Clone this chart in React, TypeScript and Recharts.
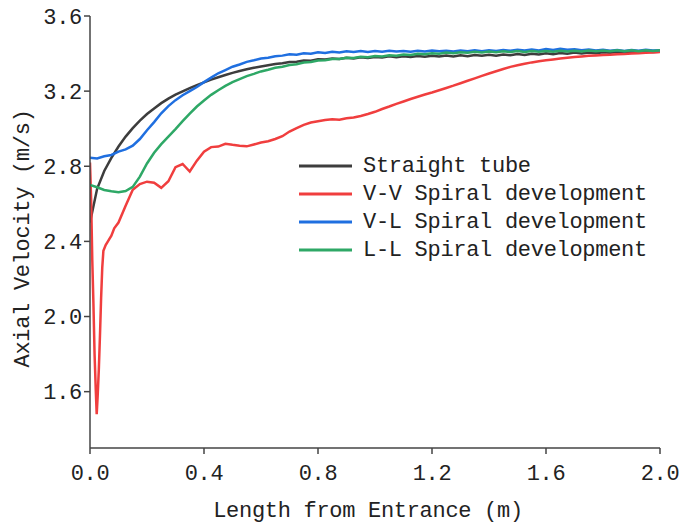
import React from "react";
import { LineChart, Line, XAxis, YAxis, Legend, Label } from "recharts";

// Shared x positions (m) for three series
const xGrid = [
  0, 0.025, 0.05, 0.075, 0.1, 0.125, 0.15, 0.175, 0.2, 0.225,
  0.25, 0.275, 0.3, 0.325, 0.35, 0.375, 0.4, 0.425, 0.45, 0.475,
  0.5, 0.525, 0.55, 0.575, 0.6, 0.625, 0.65, 0.675, 0.7, 0.725,
  0.75, 0.775, 0.8, 0.825, 0.85, 0.875, 0.9, 0.925, 0.95, 0.975,
  1.0, 1.025, 1.05, 1.075, 1.1, 1.125, 1.15, 1.175, 1.2, 1.225,
  1.25, 1.275, 1.3, 1.325, 1.35, 1.375, 1.4, 1.425, 1.45, 1.475,
  1.5, 1.525, 1.55, 1.575, 1.6, 1.625, 1.65, 1.675, 1.7, 1.725,
  1.75, 1.775, 1.8, 1.825, 1.85, 1.875, 1.9, 1.925, 1.95, 1.975, 2.0,
];

const straightTube = [
  2.5, 2.68, 2.775, 2.845, 2.905, 2.958, 3.003, 3.043, 3.078, 3.108,
  3.136, 3.16, 3.181, 3.199, 3.216, 3.232, 3.247, 3.261, 3.274, 3.286,
  3.297, 3.307, 3.316, 3.324, 3.331, 3.338, 3.344, 3.349, 3.355, 3.357,
  3.363, 3.362, 3.37, 3.368, 3.374, 3.371, 3.378, 3.374, 3.38, 3.377,
  3.382, 3.379, 3.385, 3.38, 3.386, 3.382, 3.387, 3.383, 3.388, 3.384,
  3.389, 3.385, 3.391, 3.386, 3.392, 3.388, 3.393, 3.389, 3.395, 3.391,
  3.397, 3.393, 3.399, 3.395, 3.401, 3.397, 3.403, 3.399, 3.405, 3.401,
  3.406, 3.402, 3.407, 3.404, 3.408, 3.405, 3.409, 3.406, 3.411, 3.408, 3.41,
];

const vlSpiral = [
  2.845, 2.842, 2.853, 2.86, 2.878, 2.89, 2.91, 2.945, 2.992, 3.035,
  3.082, 3.12, 3.152, 3.178, 3.2, 3.222, 3.248, 3.272, 3.295, 3.312,
  3.33, 3.342, 3.356, 3.364, 3.374, 3.378, 3.386, 3.389, 3.396, 3.394,
  3.402, 3.399, 3.407, 3.403, 3.41, 3.406, 3.412, 3.408, 3.413, 3.409,
  3.414, 3.41, 3.415, 3.411, 3.414, 3.41, 3.415, 3.411, 3.416, 3.412,
  3.415, 3.411, 3.416, 3.412, 3.417, 3.413, 3.418, 3.414, 3.419, 3.415,
  3.42, 3.416, 3.421, 3.417, 3.424, 3.419, 3.425, 3.42, 3.423, 3.418,
  3.422, 3.416, 3.42, 3.415, 3.419, 3.414, 3.419, 3.415, 3.42, 3.416, 3.418,
];

const llSpiral = [
  2.7, 2.688, 2.674, 2.667, 2.662, 2.668, 2.69, 2.745, 2.815, 2.872,
  2.918, 2.958, 2.998, 3.04, 3.08, 3.118, 3.15, 3.18, 3.205, 3.228,
  3.248, 3.264, 3.28, 3.292, 3.305, 3.314, 3.324, 3.33, 3.339, 3.343,
  3.352, 3.355, 3.363, 3.364, 3.371, 3.371, 3.378, 3.377, 3.383, 3.381,
  3.387, 3.385, 3.391, 3.389, 3.395, 3.392, 3.399, 3.396, 3.402, 3.399,
  3.405, 3.402, 3.407, 3.404, 3.409, 3.406, 3.411, 3.407, 3.412, 3.408,
  3.413, 3.409, 3.414, 3.41, 3.414, 3.41, 3.415, 3.411, 3.415, 3.411,
  3.416, 3.412, 3.416, 3.412, 3.417, 3.413, 3.417, 3.413, 3.418, 3.414, 3.418,
];

// V-V series has a dense start to capture the sharp dip
const vvX = [
  0, 0.004, 0.008, 0.012, 0.016, 0.02, 0.0235, 0.027, 0.031, 0.035,
  0.039, 0.043, 0.047, 0.055, 0.065, 0.075, 0.085, 0.1,
  0.125, 0.15, 0.175, 0.2, 0.225, 0.25, 0.275, 0.3, 0.325, 0.35,
  0.375, 0.4, 0.425, 0.45, 0.475, 0.5, 0.525, 0.55, 0.575, 0.6,
  0.625, 0.65, 0.675, 0.7, 0.725, 0.75, 0.775, 0.8, 0.825, 0.85,
  0.875, 0.9, 0.925, 0.95, 0.975, 1.0, 1.025, 1.05, 1.075, 1.1,
  1.125, 1.15, 1.175, 1.2, 1.225, 1.25, 1.275, 1.3, 1.325, 1.35,
  1.375, 1.4, 1.425, 1.45, 1.475, 1.5, 1.525, 1.55, 1.575, 1.6,
  1.625, 1.65, 1.675, 1.7, 1.725, 1.75, 1.775, 1.8, 1.825, 1.85,
  1.875, 1.9, 1.925, 1.95, 1.975, 2.0,
];

const vvSpiral = [
  2.82, 2.62, 2.3, 2.07, 1.8, 1.62, 1.48, 1.58, 1.72, 1.9,
  2.1, 2.26, 2.35, 2.38, 2.405, 2.43, 2.47, 2.5,
  2.59, 2.675, 2.705, 2.718, 2.712, 2.685, 2.72, 2.795, 2.812, 2.772,
  2.83, 2.878, 2.902, 2.905, 2.92, 2.914, 2.909, 2.906, 2.916, 2.926,
  2.933, 2.945, 2.96, 2.985, 3.003, 3.02, 3.033, 3.04, 3.046, 3.05,
  3.048, 3.056, 3.06, 3.068, 3.078, 3.09, 3.105, 3.118, 3.132, 3.145,
  3.158, 3.17, 3.182, 3.193, 3.205, 3.217, 3.229, 3.242, 3.255, 3.268,
  3.281, 3.294, 3.306, 3.318, 3.329, 3.338, 3.346, 3.353, 3.359, 3.364,
  3.369, 3.374, 3.378, 3.382, 3.385, 3.388, 3.39, 3.392, 3.394, 3.396,
  3.398, 3.4, 3.402, 3.404, 3.406, 3.408,
];

const xTicks = [0, 0.4, 0.8, 1.2, 1.6, 2.0];
const yTicks = [1.6, 2.0, 2.4, 2.8, 3.2, 3.6];

const seriesNames = [
  "Straight tube",
  "V-V Spiral development",
  "V-L Spiral development",
  "L-L Spiral development",
];
const seriesColors = ["#3d3d3d", "#f03e3e", "#1f6fe0", "#2ea866"];

const FONT = "'Liberation Mono', 'DejaVu Sans Mono', monospace";
const TEXT_COLOR = "#222";

const zip = (xs: number[], ys: number[]) => xs.map((x, i) => ({ x, y: ys[i] }));

const straightData = zip(xGrid, straightTube);
const vvData = zip(vvX, vvSpiral);
const vlData = zip(xGrid, vlSpiral);
const llData = zip(xGrid, llSpiral);

const LegendContent = () => (
  <div style={{ fontFamily: FONT, fontSize: 22, letterSpacing: "-0.3px", color: TEXT_COLOR }}>
    {seriesNames.map((name, i) => (
      <div key={name} style={{ display: "flex", alignItems: "center", height: 28, whiteSpace: "nowrap" }}>
        <svg width={53} height={6} style={{ marginRight: 11, flex: "none" }}>
          <line x1={0} y1={3} x2={53} y2={3} stroke={seriesColors[i]} strokeWidth={3} />
        </svg>
        <span>{name}</span>
      </div>
    ))}
  </div>
);

const XTitle = (props: any) => {
  const vb = props.viewBox || {};
  return (
    <text
      x={vb.x + vb.width / 2 - 7}
      y={516.5}
      textAnchor="middle"
      fontFamily={FONT}
      fontSize={22}
      letterSpacing={-0.3}
      fill={TEXT_COLOR}
    >
      Length from Entrance (m)
    </text>
  );
};

const YTitle = () => {
  const cx = 29;
  const cy = 238.5;
  return (
    <text
      x={cx}
      y={cy}
      transform={`rotate(-90 ${cx} ${cy})`}
      textAnchor="middle"
      fontFamily={FONT}
      fontSize={22}
      letterSpacing={-0.3}
      fill={TEXT_COLOR}
    >
      Axial Velocity (m/s)
    </text>
  );
};

const tickStyle = { fontFamily: FONT, fontSize: 22, fill: TEXT_COLOR, letterSpacing: -0.3 };

export default function App() {
  return (
    <div style={{ width: 681, height: 522 }}>
      <style>{"html,body{margin:0;padding:0;overflow:hidden;}"}</style>
      <LineChart width={681} height={522} margin={{ top: 16, right: 21, left: 8, bottom: 0 }}>
        <XAxis
          type="number"
          dataKey="x"
          domain={[0, 2]}
          ticks={xTicks}
          tickFormatter={(v: number) => v.toFixed(1)}
          allowDataOverflow
          height={74}
          tickSize={6}
          tickMargin={10}
          stroke="#444"
          strokeWidth={1.5}
          tick={tickStyle}
          label={<Label content={XTitle} />}
        />
        <YAxis
          type="number"
          dataKey="y"
          domain={[1.3, 3.6]}
          ticks={yTicks}
          tickFormatter={(v: number) => v.toFixed(1)}
          allowDataOverflow
          width={82}
          tickSize={6}
          tickMargin={2}
          stroke="#444"
          strokeWidth={1.5}
          tick={tickStyle}
          label={<Label content={YTitle} />}
        />
        <Legend
          layout="vertical"
          align="center"
          verticalAlign="middle"
          content={LegendContent}
          wrapperStyle={{ left: 299, top: 152, width: 380 }}
        />
        <Line data={straightData} dataKey="y" name={seriesNames[0]} stroke={seriesColors[0]} strokeWidth={2.5} dot={false} isAnimationActive={false} />
        <Line data={vvData} dataKey="y" name={seriesNames[1]} stroke={seriesColors[1]} strokeWidth={2.5} dot={false} isAnimationActive={false} />
        <Line data={vlData} dataKey="y" name={seriesNames[2]} stroke={seriesColors[2]} strokeWidth={2.5} dot={false} isAnimationActive={false} />
        <Line data={llData} dataKey="y" name={seriesNames[3]} stroke={seriesColors[3]} strokeWidth={2.5} dot={false} isAnimationActive={false} />
      </LineChart>
    </div>
  );
}
